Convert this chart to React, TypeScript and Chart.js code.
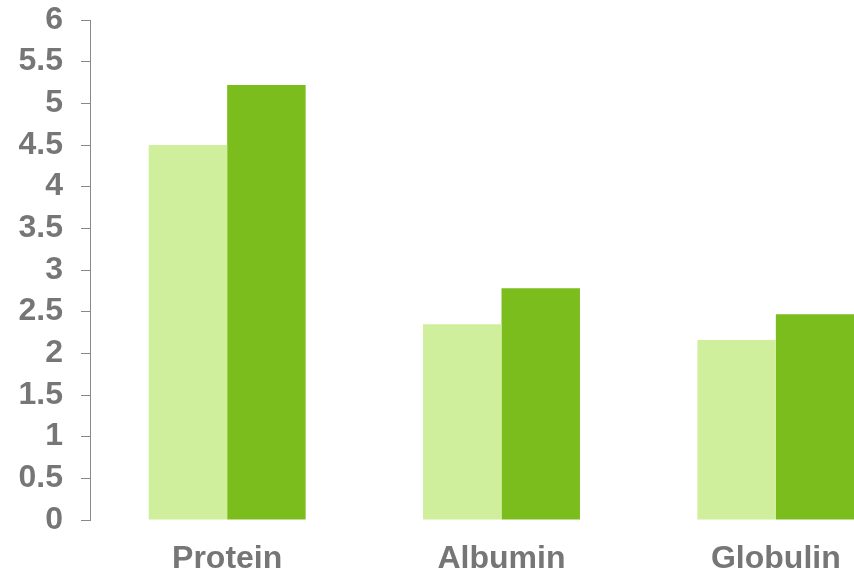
import React, { useEffect, useRef } from "react";
import { Chart, registerables } from "chart.js";

Chart.register(...registerables);

const categories = ["Protein", "Albumin", "Globulin"];
const seriesLight = [4.5, 2.35, 2.16];
const seriesDark = [5.22, 2.78, 2.47];
const yTickLabels = ["0", "0.5", "1", "1.5", "2", "2.5", "3", "3.5", "4", "4.5", "5", "5.5", "6"];

const CANVAS_W = 1000;
const CANVAS_H = 573;
const FONT = "'Liberation Sans', Arial, sans-serif";

export default function App() {
  const ref = useRef<HTMLCanvasElement | null>(null);

  useEffect(() => {
    if (!ref.current) return;
    const chart = new Chart(ref.current, {
      type: "bar",
      data: {
        labels: categories,
        datasets: [
          {
            label: "A",
            data: seriesLight,
            backgroundColor: "#CFEF9C",
            borderWidth: 0,
            barPercentage: 1.0,
            categoryPercentage: 0.572,
          },
          {
            label: "B",
            data: seriesDark,
            backgroundColor: "#7CBD1E",
            borderWidth: 0,
            barPercentage: 1.0,
            categoryPercentage: 0.572,
          },
        ],
      },
      options: {
        responsive: false,
        animation: false,
        layout: { padding: { top: 20, right: CANVAS_W - 913, left: 0, bottom: 0 } },
        plugins: { legend: { display: false }, tooltip: { enabled: false } },
        scales: {
          x: {
            grid: { display: false },
            border: { display: false },
            ticks: {
              color: "#767676",
              font: { family: FONT, size: 32, weight: "bold" },
              padding: 12,
            },
            afterFit: (s: any) => {
              s.height = CANVAS_H - 520;
              s.paddingLeft = 0;
              s.paddingRight = 0;
            },
          },
          y: {
            min: 0,
            max: 6,
            grid: {
              drawOnChartArea: false,
              drawTicks: true,
              tickLength: 9,
              color: "#888888",
            },
            border: { display: true, color: "#888888", width: 1 },
            ticks: {
              stepSize: 0.5,
              autoSkip: false,
              color: "#767676",
              padding: 18,
              font: { family: FONT, size: 32, weight: "bold", lineHeight: 1 },
              callback: (_v: any, i: number) => yTickLabels[i],
            },
            afterFit: (s: any) => {
              s.width = 90;
              s.paddingTop = 0;
              s.paddingBottom = 0;
            },
          },
        },
      },
    });
    return () => chart.destroy();
  }, []);

  return (
    <div style={{ position: "fixed", left: 0, top: 0, width: 854, height: 573, overflow: "hidden", background: "#fff" }}>
      <canvas ref={ref} width={CANVAS_W} height={CANVAS_H} style={{ display: "block" }} />
    </div>
  );
}
